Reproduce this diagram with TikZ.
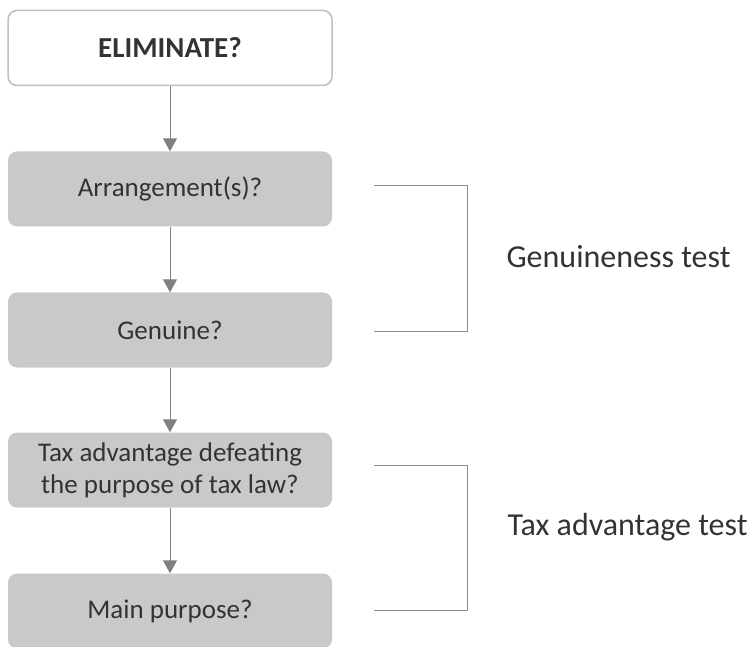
\documentclass[tikz,border=0pt]{standalone}
\usepackage{fontspec}
\setmainfont{Carlito}
\usetikzlibrary{positioning,arrows.meta}
\tikzset{>=Triangle}

\begin{document}
\begin{tikzpicture}[x=1pt,y=-1pt,
	box/.style = {% grey question boxes
		fill=boxgrey, rounded corners=9pt, minimum width=324pt,
		minimum height=75pt, inner sep=2pt, align=center,
		font=\fontsize{27}{32}\selectfont, text=black!80},
	topbox/.style = {box, fill=white, draw=black!25, line width=1.5pt,
		font=\fontsize{29}{32}\selectfont\bfseries},
	arr/.style = {->, draw=black!50, line width=1pt,
		shorten >=0pt, >={Triangle[length=13pt,width=14pt]}},
	brk/.style = {draw=black!45, line width=1pt},
	lbl/.style = {anchor=west, font=\fontsize{32}{36}\selectfont, text=black!80},
	]
	\definecolor{boxgrey}{HTML}{C9C9C9}
	\useasboundingbox (0,0) rectangle (753,647);

	% boxes
	\node[topbox] (elim) at (170,48) {ELIMINATE?};
	\node[box] (arr1) at (170,189) {Arrangement(s)?};
	\node[box] (gen) at (170,330) {Genuine?};
	\node[box] (tax) at (170,470) {Tax advantage defeating\\the purpose of tax law?};
	\node[box] (main) at (170,611) {Main purpose?};

	% arrows
	\draw[arr] (elim) -- (arr1);
	\draw[arr] (arr1) -- (gen);
	\draw[arr] (gen) -- (tax);
	\draw[arr] (tax) -- (main);

	% brackets
	\coordinate (g1) at (374,186);
	\coordinate (g2) at (374,332);
	\coordinate (t1) at (374,465);
	\coordinate (t2) at (374,610);
	\draw[brk] (g1) -- ++(93,0) |- (g2);
	\draw[brk] (t1) -- ++(93,0) |- (t2);
	\node[lbl] (gtest) at (503,257) {Genuineness test};
	\node[lbl] (ttest) at (504,527) {Tax advantage test};

\end{tikzpicture}
\end{document}
